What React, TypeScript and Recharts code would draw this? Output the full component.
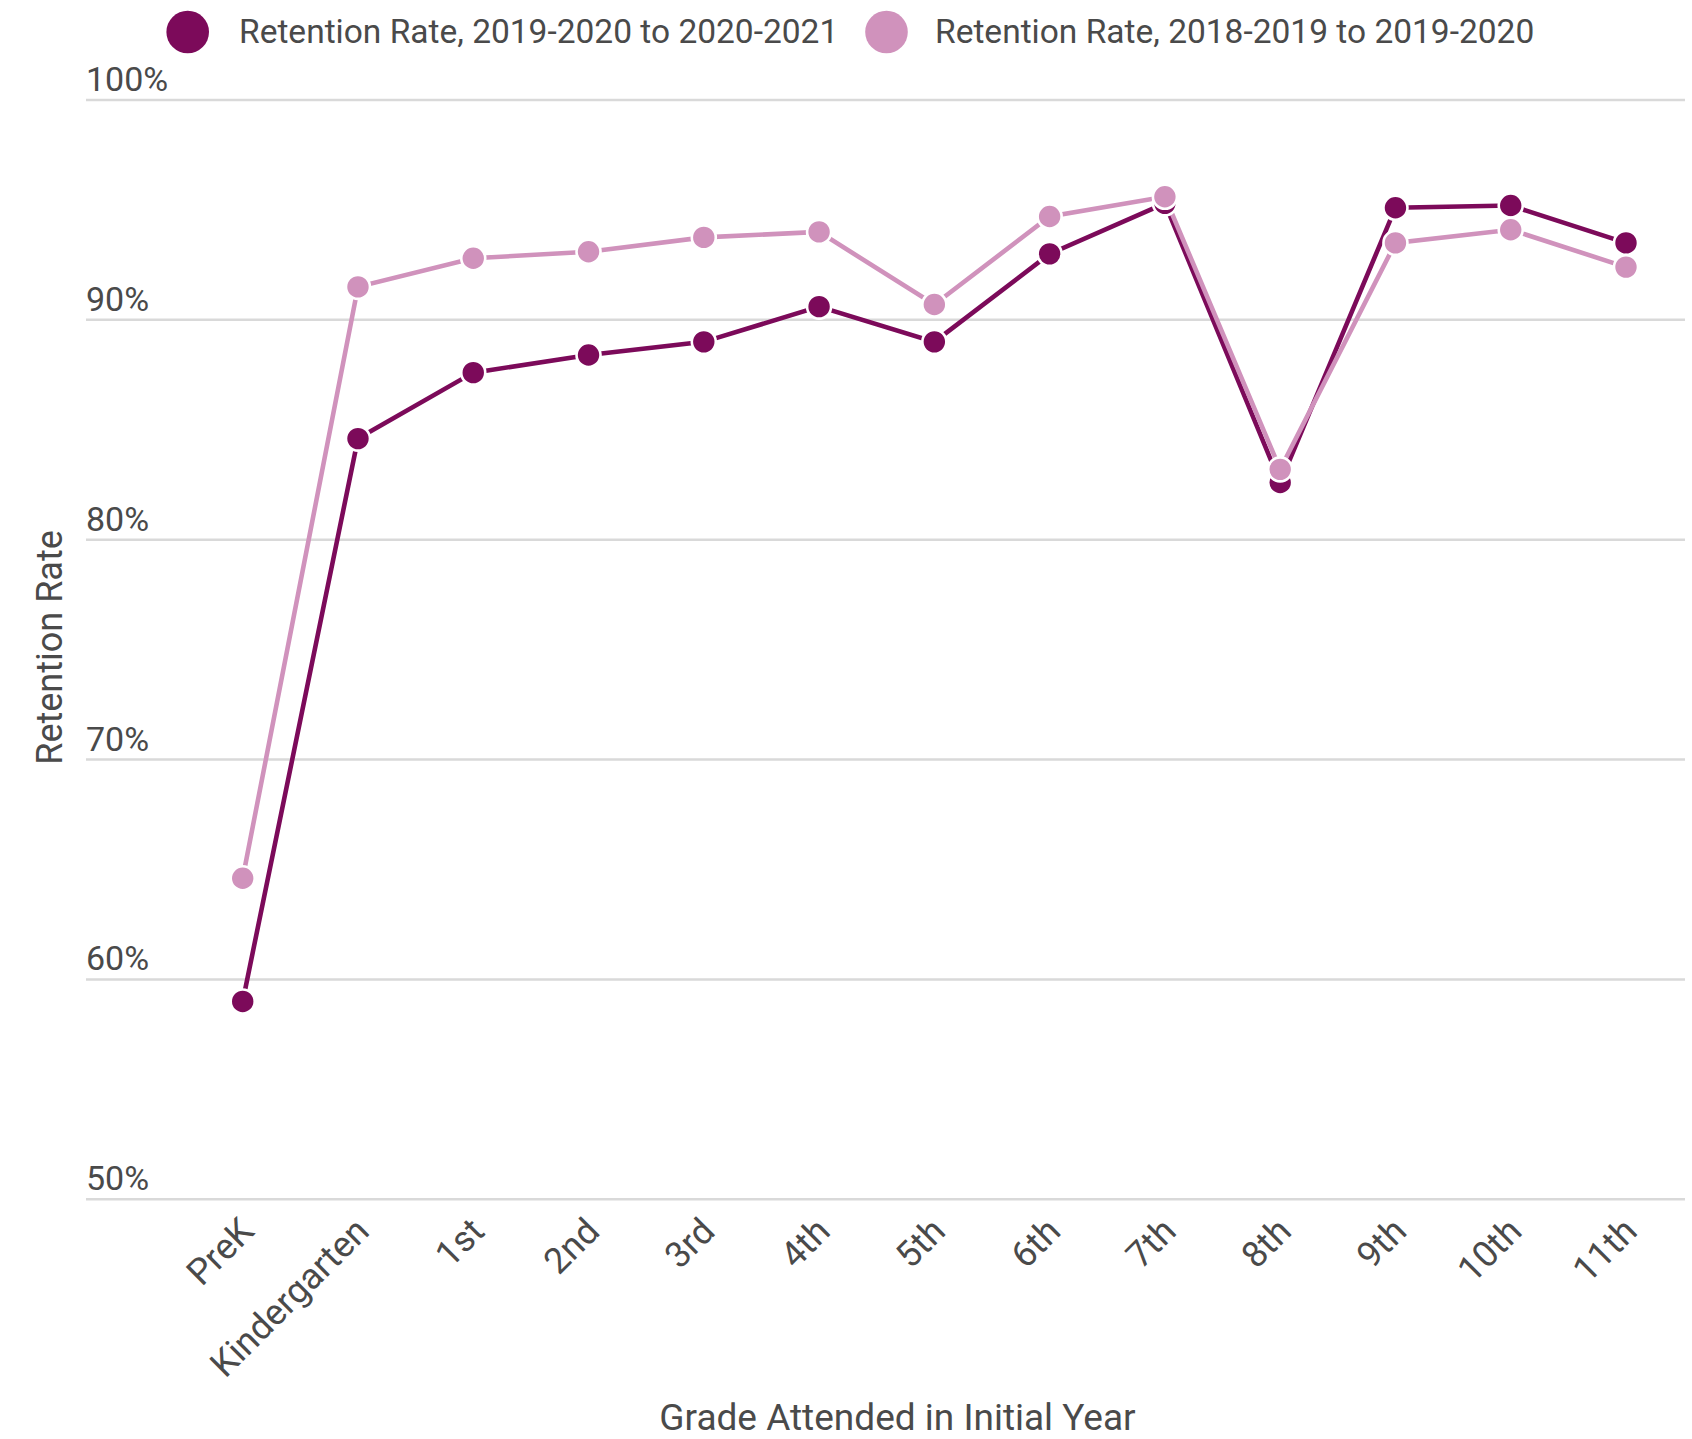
import React from 'react';
import { LineChart, Line, XAxis, YAxis, CartesianGrid } from 'recharts';

const grades = ['PreK', 'Kindergarten', '1st', '2nd', '3rd', '4th', '5th', '6th', '7th', '8th', '9th', '10th', '11th'];
const rate1920to2021 = [59.0, 84.6, 87.6, 88.4, 89.0, 90.6, 89.0, 93.0, 95.3, 82.6, 95.1, 95.2, 93.5];
const rate1819to1920 = [64.6, 91.5, 92.8, 93.1, 93.75, 94.0, 90.7, 94.7, 95.6, 83.2, 93.5, 94.1, 92.4];
const yTicks = [50, 60, 70, 80, 90, 100];

const seriesNames = ['Retention Rate, 2019-2020 to 2020-2021', 'Retention Rate, 2018-2019 to 2019-2020'];
const seriesColors = ['#7c0a5a', '#d092bc'];

const data = grades.map((g, i) => ({ grade: g, a: rate1920to2021[i], b: rate1819to1920[i] }));

const TEXT = '#4a4a4a';
const FONT = 'Roboto, sans-serif';
const W = 1684;
const H = 1431;

const YTick = (props: any) => {
  const { x, y, payload } = props;
  return (
    <text x={x} y={y - 9} textAnchor="start" fontSize={34} fill={TEXT} fontFamily={FONT}>
      {`${payload.value}%`}
    </text>
  );
};

const XTick = (props: any) => {
  const { x, y, payload } = props;
  return (
    <g transform={`translate(${x + 13},${y + 34})`}>
      <text textAnchor="end" transform="rotate(-45)" fontSize={36} fill={TEXT} fontFamily={FONT}>
        {payload.value}
      </text>
    </g>
  );
};

const legendPos = [
  { cx: 179.7, tx: 231 },
  { cx: 878.5, tx: 927 },
];

export default function App() {
  return (
    <div style={{ position: 'absolute', left: 8, top: 8, width: W, height: H, fontFamily: FONT }}>
      <LineChart width={W} height={H} data={data} margin={{ top: 92, right: 7, left: -2, bottom: 39.7 }}>
        <CartesianGrid horizontal vertical={false} stroke="#d9d9d9" strokeWidth={2.5} />
        <XAxis
          dataKey="grade"
          interval={0}
          axisLine={false}
          tickLine={false}
          tickSize={0}
          tickMargin={0}
          height={200}
          padding={{ left: 156.7, right: 59 }}
          tick={<XTick />}
        />
        <YAxis
          domain={[50, 100]}
          ticks={yTicks}
          interval={0}
          width={80}
          axisLine={false}
          tickLine={false}
          tickSize={0}
          tickMargin={0}
          tick={<YTick />}
        />
        <Line
          type="linear"
          dataKey="a"
          name={seriesNames[0]}
          stroke={seriesColors[0]}
          strokeWidth={4.6}
          dot={{ r: 12, fill: seriesColors[0], stroke: '#fff', strokeWidth: 2.6 }}
          activeDot={false}
          isAnimationActive={false}
        />
        <Line
          type="linear"
          dataKey="b"
          name={seriesNames[1]}
          stroke={seriesColors[1]}
          strokeWidth={4.6}
          dot={{ r: 12, fill: seriesColors[1], stroke: '#fff', strokeWidth: 2.6 }}
          activeDot={false}
          isAnimationActive={false}
        />
      </LineChart>
      <svg
        width={W}
        height={H}
        style={{ position: 'absolute', left: 0, top: 0, pointerEvents: 'none' }}
      >
        {seriesNames.map((n, i) => (
          <g key={n}>
            <circle cx={legendPos[i].cx} cy={24} r={21.3} fill={seriesColors[i]} />
            <text x={legendPos[i].tx} y={34.7} fontSize={33.5} fill={TEXT} fontFamily={FONT}>
              {n}
            </text>
          </g>
        ))}
        <text
          x={54}
          y={639.5}
          transform="rotate(-90, 54, 639.5)"
          textAnchor="middle"
          fontSize={36}
          fill={TEXT}
          fontFamily={FONT}
        >
          Retention Rate
        </text>
        <text x={889.5} y={1422} textAnchor="middle" fontSize={37} fill={TEXT} fontFamily={FONT}>
          Grade Attended in Initial Year
        </text>
      </svg>
    </div>
  );
}
